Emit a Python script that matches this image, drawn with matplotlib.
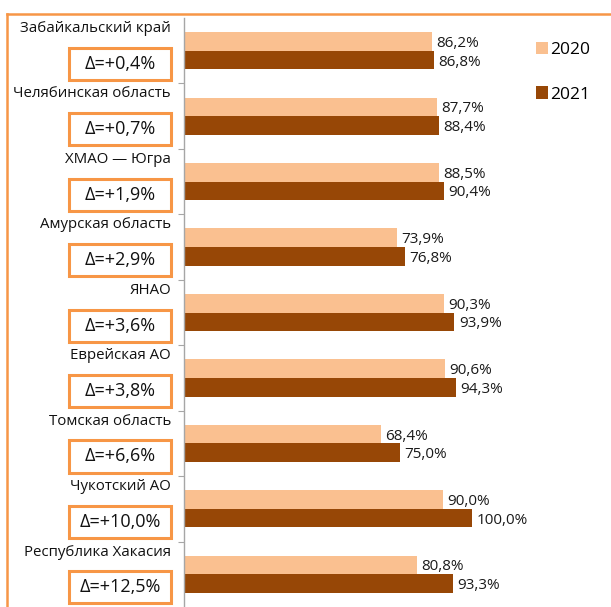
import matplotlib.pyplot as plt
import matplotlib.transforms as mtransforms
from matplotlib.patches import Rectangle
from matplotlib.lines import Line2D

plt.rcParams['font.family'] = ['Open Sans', 'DejaVu Sans']

# data
regions = ['Забайкальский край', 'Челябинская область', 'ХМАО — Югра',
           'Амурская область', 'ЯНАО', 'Еврейская АО', 'Томская область',
           'Чукотский АО', 'Республика Хакасия']
v2020 = [86.2, 87.7, 88.5, 73.9, 90.3, 90.6, 68.4, 90.0, 80.8]
v2021 = [86.8, 88.4, 90.4, 76.8, 93.9, 94.3, 75.0, 100.0, 93.3]
deltas = [0.4, 0.7, 1.9, 2.9, 3.6, 3.8, 6.6, 10.0, 12.5]
years = ['2020', '2021']

c2020 = '#FAC090'
c2021 = '#974706'
orange = '#F79646'

W, H = 611, 607
fig = plt.figure(figsize=(W / 100, H / 100), dpi=100)
ax = fig.add_axes([184 / W, 0, (W - 184) / W, 589 / H])

n = len(regions)
ypos = [n - 1 - i for i in range(n)]
bh = 0.285

ax.barh([y + bh / 2 for y in ypos], v2020, height=bh, color=c2020, label=years[0])
ax.barh([y - bh / 2 for y in ypos], v2021, height=bh, color=c2021, label=years[1])

for y, a, b in zip(ypos, v2020, v2021):
    ax.text(a + 1.5, y + bh / 2 - 0.03, f'{a:.1f}%'.replace('.', ','), va='center',
            ha='left', fontsize=11, color='#1a1a1a')
    ax.text(b + 1.5, y - bh / 2 - 0.03, f'{b:.1f}%'.replace('.', ','), va='center',
            ha='left', fontsize=11, color='#1a1a1a')

ax.set_xlim(0, (W - 184) / 2.88)
ax.set_ylim(-0.5, n - 0.5)
for s in ['top', 'right', 'bottom']:
    ax.spines[s].set_visible(False)
ax.spines['left'].set_color('#A6A6A6')
ax.spines['left'].set_linewidth(1)
ax.set_xticks([])
ax.set_yticks([i + 0.5 for i in range(n - 1)])
ax.set_yticklabels([])
ax.tick_params(axis='y', length=4, color='#A6A6A6', direction='out')

# region names and delta boxes left of the axis
tr = mtransforms.blended_transform_factory(fig.transFigure, ax.transData)
box_h = 0.49
for y, name, d in zip(ypos, regions, deltas):
    fig.text(171 / W, y + 0.34, name, transform=tr, ha='right', va='center',
             fontsize=10.8, color='#111111')
    yc = y - 0.2
    fig.patches.append(Rectangle((69 / W, yc - box_h / 2), 102 / W, box_h,
                                 transform=tr, fill=False, edgecolor=orange,
                                 linewidth=2.2))
    fig.text(120 / W, yc, f'Δ=+{d:.1f}%'.replace('.', ','), transform=tr,
             ha='center', va='center', fontsize=13, color='#111111')

# outer frame (only top and left edges are visible)
fig.lines.append(Line2D([7 / W, 1], [1 - 14 / H, 1 - 14 / H], color=orange,
                        linewidth=1.8, transform=fig.transFigure))
fig.lines.append(Line2D([7 / W, 7 / W], [0, 1 - 14 / H], color=orange,
                        linewidth=1.8, transform=fig.transFigure))

fig.legend(loc='upper left', bbox_to_anchor=(527 / W, 1 - 33 / H), frameon=False,
           fontsize=12.5, handlelength=0.7, handleheight=0.7, handletextpad=0.15,
           labelspacing=1.65, borderpad=0)

fig.savefig('out.png', dpi=100)
